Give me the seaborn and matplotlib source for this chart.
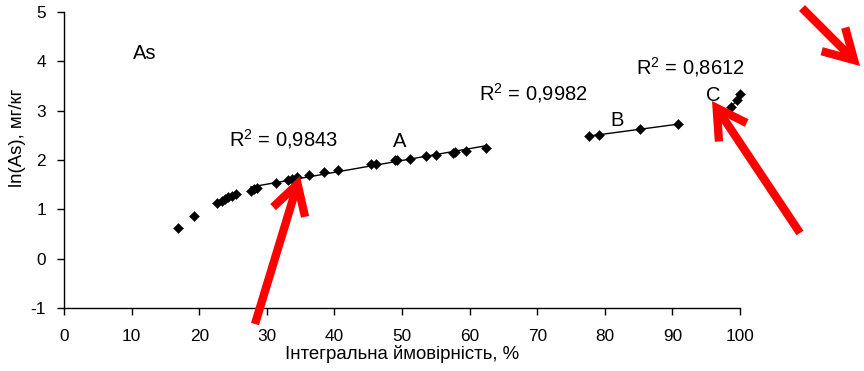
import numpy as np
import pandas as pd
import matplotlib
matplotlib.use("Agg")
import matplotlib.pyplot as plt
from matplotlib.patches import FancyArrowPatch, ArrowStyle
import seaborn as sns

# Lower tail of the distribution (no trend line)
tail_x = [16.9, 19.2, 22.7, 23.3, 23.8, 24.3, 24.9, 25.5]
tail_y = [0.62, 0.86, 1.13, 1.17, 1.20, 1.24, 1.28, 1.32]

# Population A
a_x = [27.6, 28.1, 28.6, 31.4, 33.2, 33.7, 34.5, 36.3, 38.5, 40.6, 45.4, 46.2,
       49.0, 49.3, 51.2, 53.5, 55.0, 57.5, 57.8, 59.4, 62.4]
a_y = [1.38, 1.41, 1.43, 1.54, 1.59, 1.62, 1.66, 1.70, 1.75, 1.80, 1.91, 1.92,
       1.99, 2.00, 2.03, 2.08, 2.11, 2.15, 2.16, 2.18, 2.24]

# Population B
b_x = [77.7, 79.2, 85.2, 90.9]
b_y = [2.49, 2.51, 2.62, 2.73]

# Population C
c_x = [98.7, 99.6, 100.0]
c_y = [3.07, 3.22, 3.33]

r2_labels = ["R$^2$ = 0,9843", "R$^2$ = 0,9982", "R$^2$ = 0,8612"]
group_names = ["A", "B", "C"]
x_ticks = [0, 10, 20, 30, 40, 50, 60, 70, 80, 90, 100]
y_ticks = [-1, 0, 1, 2, 3, 4, 5]

sns.set_theme(style="white")
plt.rcParams["font.family"] = ["Liberation Sans", "DejaVu Sans"]
plt.rcParams["mathtext.fontset"] = "custom"
plt.rcParams["mathtext.rm"] = "Liberation Sans"
plt.rcParams["mathtext.it"] = "Liberation Sans"

TICK_FS = 12.4
LABEL_FS = 13.4
NOTE_FS = 14.5

fig = plt.figure(figsize=(8.64, 3.71), dpi=100)
ax = fig.add_axes([64 / 864, 1 - 308 / 371, 676 / 864, 296 / 371])

all_df = pd.DataFrame({
    "x": tail_x + a_x + b_x + c_x,
    "y": tail_y + a_y + b_y + c_y,
})

# Linear trend lines for each population
for xs, ys in [(a_x, a_y), (b_x, b_y), (c_x, c_y)]:
    sns.regplot(x=xs, y=ys, ax=ax, scatter=False, ci=None, truncate=True,
                line_kws=dict(color="black", lw=1.0))

sns.scatterplot(data=all_df, x="x", y="y", ax=ax, marker="D", s=26,
                color="black", edgecolor="black", linewidth=0.3,
                clip_on=False, zorder=3)

ax.set_xlim(0, 100)
ax.set_ylim(-1, 5)
ax.set_xticks(x_ticks)
ax.set_yticks(y_ticks)
ax.set_xticklabels([str(t) for t in x_ticks], fontsize=TICK_FS)
ax.set_yticklabels([str(t) for t in y_ticks], fontsize=TICK_FS)
ax.tick_params(axis="both", direction="out", length=5, width=1,
               color="black", labelcolor="black")
ax.tick_params(axis="x", pad=10)
ax.tick_params(axis="y", pad=8)
ax.xaxis.set_ticks_position("bottom")
ax.yaxis.set_ticks_position("left")
for side in ["top", "right"]:
    ax.spines[side].set_visible(False)
for side in ["left", "bottom"]:
    ax.spines[side].set_color("black")
    ax.spines[side].set_linewidth(1)

ax.set_xlabel("Інтегральна ймовірність, %", fontsize=LABEL_FS, color="black", labelpad=1)
ax.set_ylabel("ln(As), мг/кг", fontsize=LABEL_FS, color="black")
ax.yaxis.set_label_coords(-0.056, 0.575)

# Annotations
txt = dict(fontsize=NOTE_FS, color="black", ha="center", va="center")
ax.text(12.0, 4.15, "As", **txt)
ax.text(32.4, 2.42, r2_labels[0], **txt)
ax.text(49.7, 2.38, group_names[0], **txt)
ax.text(69.4, 3.36, r2_labels[1], **txt)
ax.text(81.8, 2.80, group_names[1], **txt)
ax.text(92.6, 3.88, r2_labels[2], **txt)
ax.text(96.0, 3.31, group_names[2], **txt)

# Red pointer arrows (figure pixel positions, origin at bottom-left)
H = 371
style = ArrowStyle("->", head_length=1.05, head_width=0.6)
for (x0, y0), (x1, y1) in [((255, 324), (300, 176)),
                           ((800, 233), (712, 101)),
                           ((802, 8), (860, 66))]:
    arr = FancyArrowPatch((x0, H - y0), (x1, H - y1), transform=None,
                          arrowstyle=style, mutation_scale=20,
                          color="#ff0000", lw=6, shrinkA=0, shrinkB=0,
                          capstyle="butt", joinstyle="miter", zorder=5)
    fig.add_artist(arr)

fig.savefig("out.png", dpi=100)
